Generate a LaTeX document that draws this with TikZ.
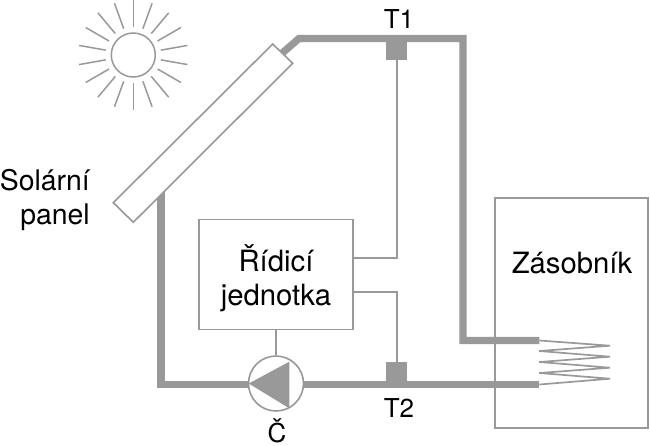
\documentclass[tikz,border=0pt]{standalone}
\usepackage{fontspec}
\setmainfont{TeX Gyre Heros}
\definecolor{gr}{HTML}{999999}
\tikzset{
 pipe/.style={draw=gr,line width=7.3pt,line join=miter},
 wire/.style={draw=gr,line width=1.6pt},
 thinbox/.style={draw=gr,line width=1.6pt,fill=white},
 sensor/.style={fill=gr,draw=none},
 coil/.style={draw=gr,line width=1.7pt,line join=miter},
 ray/.style={draw=gr,line width=1.5pt},
 lab/.style={text=black,font=\fontsize{29.3}{34}\selectfont,inner sep=0pt,align=center},
 labs/.style={text=black,font=\fontsize{28.4}{34}\selectfont,inner sep=0pt,align=right},
 sml/.style={text=black,font=\fontsize{26}{30}\selectfont,inner sep=0pt,anchor=base},
}
\begin{document}
\begin{tikzpicture}[x=1pt,y=-1pt]
\useasboundingbox (0,0) rectangle (650,445);
% sun
\node[circle,draw=gr,line width=1.5pt,minimum size=44pt,inner sep=0pt] (sun) at (133.3,55) {};
\foreach \a in {10,30,...,350} \draw[ray] (sun.center) ++(\a:28) -- ++(\a:27);
% coordinates
\coordinate (pTop) at (280,55);
\coordinate (bend) at (299,38.5);
\coordinate (tr) at (463,38.5);
\coordinate (trd) at (463,340.5);
\coordinate (hotEnd) at (539.3,340.5);
\coordinate (pBot) at (161,190);
\coordinate (bl) at (161,384.5);
\coordinate (coldEnd) at (539.3,384.5);
% storage
\node[draw=gr,line width=1.6pt,minimum width=153pt,minimum height=230pt,inner sep=0pt] (store) at (571.6,313) {};
% pipes
\draw[pipe] (pTop) -- (bend) -- (tr) -- (trd) -- (hotEnd);
\draw[pipe] (pBot) -- (bl) -- (coldEnd);
% panel
\draw[thinbox] (272.7,44) -- (292.7,63.3) -- (133.3,222.3) -- (113.3,202.7) -- cycle;
% sensors
\node[sensor,minimum width=21.5pt,minimum height=25pt,inner sep=0pt] (s1) at (396.7,47.5) {};
\node[sensor,minimum width=21.5pt,minimum height=25pt,inner sep=0pt] (s2) at (396.7,374.5) {};
% controller
\node[thinbox,minimum width=153.5pt,minimum height=110pt,inner sep=0pt] (ctrl) at (276,274.3) {};
\node[lab] (ctrlt) at (276,278) {Řídicí\\jednotka};
\coordinate (c1) at (ctrl.east |- 0,258);
\coordinate (c2) at (ctrl.east |- 0,292);
\draw[wire] (s1.south) -- (s1.south |- c1) -- (c1);
\draw[wire] (s2.north) -- (s2.north |- c2) -- (c2);
% pump
\node[circle,thinbox,minimum size=55pt,inner sep=0pt] (pump) at (276,383.5) {};
\draw[wire] (ctrl.south -| pump) -- (pump.north);
\fill[gr] (pump.west) ++(1,0) -- (289.3,361.7) -- (289.3,408.3) -- cycle;
% coil
\draw[coil] (hotEnd) -- (610,345.7) -- (539.3,351) -- (610,356.7) -- (539.3,362) -- (610,367.7) -- (539.3,373) -- (610,378.7) -- (coldEnd);
% labels
\node[labs,anchor=east] (sol) at (90,200) {Solární\\panel};
\node[sml] (t1) at (399,28) {T1};
\node[sml] (t2) at (399,417) {T2};
\node[sml] (cc) at (277,442) {Č};
\node[lab,anchor=base] (zas) at (572,273) {Zásobník};
\end{tikzpicture}
\end{document}
